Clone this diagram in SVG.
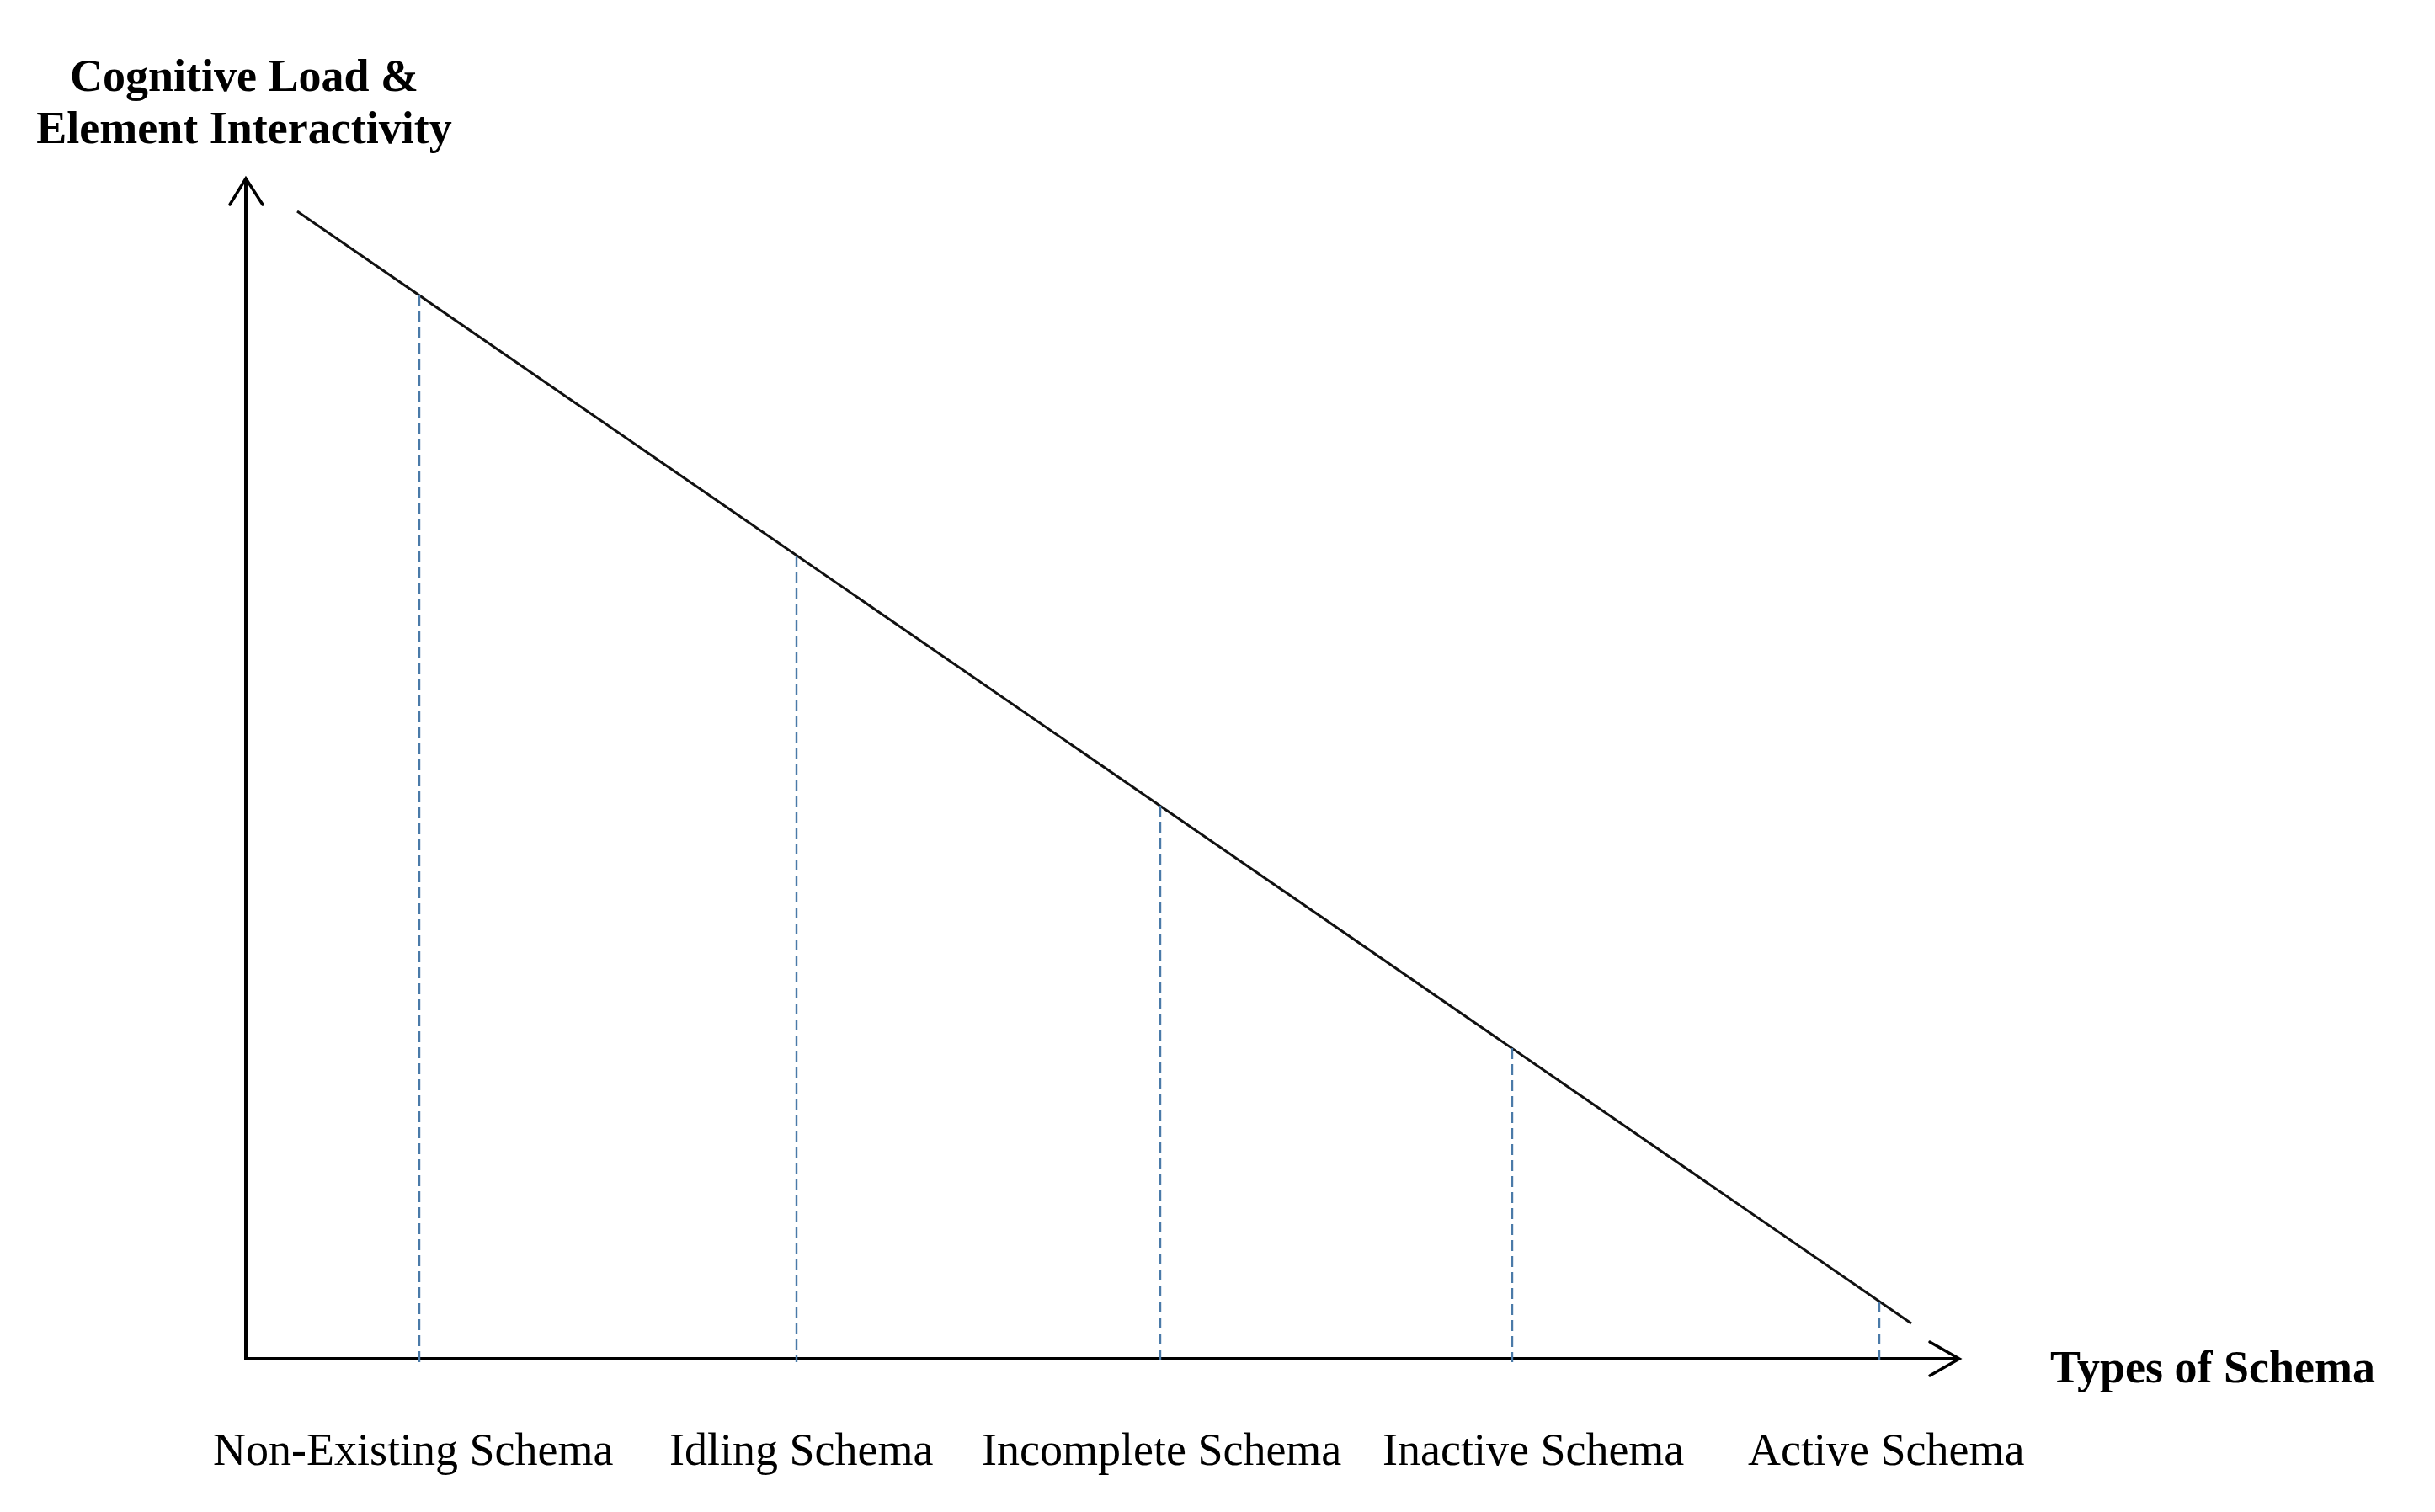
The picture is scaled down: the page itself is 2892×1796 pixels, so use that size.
<svg xmlns="http://www.w3.org/2000/svg" width="2892" height="1796" viewBox="0 0 2892 1796">
  <style>
    .axis { stroke: #000; stroke-width: 4; fill: none; stroke-linecap: square; }
    .head { stroke: #000; stroke-width: 3.5; fill: none; stroke-linecap: round; stroke-linejoin: miter; }
    .diag { stroke: #111; stroke-width: 3; fill: none; }
    .drop { stroke: #4a7aa8; stroke-width: 2.4; fill: none; stroke-dasharray: 13 6; }
    .title { font-family: "Liberation Serif", "Times New Roman", serif; font-weight: bold; font-size: 54px; fill: #000; text-anchor: middle; }
    .lbl { font-family: "Liberation Serif", "Times New Roman", serif; font-size: 54px; fill: #000; }
  </style>
  <rect width="2892" height="1796" fill="#fff"/>
  <g id="y-axis-title">
    <text class="title" x="290" y="108">Cognitive Load &amp;</text>
    <text class="title" x="290" y="170">Element Interactivity</text>
  </g>
  <g id="x-axis-title">
    <text class="lbl" x="2435" y="1642" font-weight="bold">Types of Schema</text>
  </g>
  <g id="connectors">
    <line class="axis" x1="292" y1="1614" x2="292" y2="214"/>
    <polyline class="head" points="273,243 292,212 312,243"/>
    <line class="axis" x1="292" y1="1614" x2="2325" y2="1614"/>
    <polyline class="head" points="2292,1594 2327,1614 2292,1634"/>
    <line class="diag" x1="353" y1="251" x2="2270" y2="1572"/>
    <line class="drop" x1="498" y1="351" x2="498" y2="1618"/>
    <line class="drop" x1="946" y1="660" x2="946" y2="1618"/>
    <line class="drop" x1="1378" y1="957" x2="1378" y2="1618"/>
    <line class="drop" x1="1796" y1="1245" x2="1796" y2="1618"/>
    <line class="drop" x1="2232" y1="1546" x2="2232" y2="1618"/>
  </g>
  <g id="label-non-existing"><text class="lbl" x="253" y="1740">Non-Existing Schema</text></g>
  <g id="label-idling"><text class="lbl" x="795" y="1740">Idling Schema</text></g>
  <g id="label-incomplete"><text class="lbl" x="1166" y="1740">Incomplete Schema</text></g>
  <g id="label-inactive"><text class="lbl" x="1642" y="1740">Inactive Schema</text></g>
  <g id="label-active"><text class="lbl" x="2076" y="1740">Active Schema</text></g>
</svg>
